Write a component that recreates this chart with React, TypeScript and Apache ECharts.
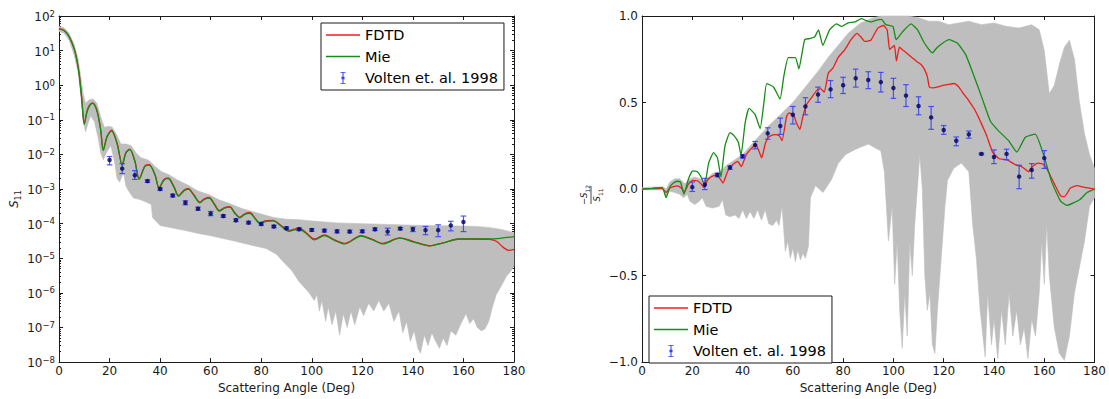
import React, { useEffect, useRef } from "react";
import * as echarts from "echarts";

// ---------------- data ----------------
const angleTicks = [0, 20, 40, 60, 80, 100, 120, 140, 160, 180];
const s11DecadeTicks = [1e-8, 1e-7, 1e-6, 1e-5, 1e-4, 1e-3, 1e-2, 1e-1, 1, 10, 100];
const s11MinorMultipliers = [2, 3, 4, 5, 6, 7, 8, 9];
const polTicks = [-1, -0.5, 0, 0.5, 1];

// left panel: S11 (log)
const s11Mie: [number, number][] = [
  [0, 42], [2, 38], [4, 25], [6, 11.2], [7, 5.6], [8, 2.0], [9, 0.4], [10, 0.074], [11, 0.16], [12, 0.25],
  [13.3, 0.3], [15, 0.18], [16.5, 0.05], [17.5, 0.013], [19, 0.032], [20.8, 0.048], [23, 0.02], [25, 0.0049],
  [26.5, 0.011], [28, 0.0138], [30, 0.0063], [31.7, 0.0019], [34, 0.0045], [35.7, 0.0049], [38, 0.0025],
  [39.6, 0.00105], [41.5, 0.0018], [43.2, 0.002], [45.5, 0.00112], [47.3, 0.00062], [49.5, 0.00089],
  [51.1, 0.001], [53.5, 0.00063], [55.7, 0.0004], [57.5, 0.0005], [59.4, 0.00055], [61.5, 0.00035],
  [63.4, 0.00023], [65.5, 0.00028], [67.6, 0.0003], [69.5, 0.0002], [71.5, 0.000148], [73.5, 0.000186],
  [75.5, 0.0002], [77.5, 0.000141], [79.4, 0.000102], [82, 0.000117], [84.7, 0.00012], [88, 0.000083],
  [91, 0.00006], [93, 0.000066], [95.2, 0.000069], [98, 0.00005], [101, 0.000034], [105, 0.000045],
  [109, 0.000033], [113, 0.000026], [119.5, 0.000044], [124, 0.000034], [128, 0.000026], [134.8, 0.000038],
  [140, 0.00003], [146.6, 0.000023], [152, 0.000028], [158.5, 0.000036], [165, 0.000036], [170.4, 0.000036],
  [175, 0.000038], [180, 0.000042],
];
const s11Fdtd: [number, number][] = [
  [0, 43], [2, 39], [4, 26], [6, 11.5], [7, 5.8], [8, 2.1], [9, 0.42], [10, 0.078], [11, 0.17], [12, 0.26],
  [13.3, 0.31], [15, 0.19], [16.5, 0.052], [17.5, 0.0135], [19, 0.033], [20.8, 0.05], [23, 0.021], [25, 0.0051],
  [26.5, 0.0115], [28, 0.0143], [30, 0.0066], [31.7, 0.002], [34, 0.0047], [35.7, 0.0051], [38, 0.0026],
  [39.6, 0.0011], [41.5, 0.0019], [43.2, 0.0021], [45.5, 0.00117], [47.3, 0.00065], [49.5, 0.00093],
  [51.1, 0.00104], [53.5, 0.00066], [55.7, 0.00042], [57.5, 0.00052], [59.4, 0.00057], [61.5, 0.00037],
  [63.4, 0.00024], [65.5, 0.00029], [67.6, 0.00031], [69.5, 0.00021], [71.5, 0.000155], [73.5, 0.000193],
  [75.5, 0.00021], [77.5, 0.000147], [79.4, 0.000107], [82, 0.000122], [84.7, 0.000125], [88, 0.000087],
  [91, 0.000063], [93, 0.00007], [95.2, 0.000073], [98, 0.000053], [101, 0.000036], [105, 0.000047],
  [109, 0.000034], [113, 0.000027], [119.5, 0.000045], [124, 0.000035], [128, 0.000027], [134.8, 0.000039],
  [140, 0.000031], [146.6, 0.000023], [152, 0.000028], [158.5, 0.000036], [165, 0.000036], [170.4, 0.000035],
  [173, 0.000031], [176, 0.00002], [178, 0.000017], [180, 0.000018],
];
const s11BandUpper: [number, number][] = [
  [0, 50], [2, 46], [4, 32], [6, 15], [7.5, 6], [8.5, 2], [9.5, 0.6], [10.5, 0.3], [12, 0.38], [13.5, 0.4],
  [15, 0.3], [16.5, 0.12], [18, 0.06], [19.5, 0.065], [21, 0.062], [23, 0.035], [24.5, 0.02], [26.5, 0.02],
  [28.5, 0.018], [30.5, 0.011], [32.5, 0.008], [35.5, 0.0068], [38, 0.0045], [40.5, 0.0032], [43.5, 0.0026],
  [47, 0.0018], [51, 0.0013], [55, 0.00088], [59.5, 0.00068], [63.5, 0.00048], [67.5, 0.00038], [72, 0.00028],
  [76, 0.00023], [80, 0.00019], [85, 0.00015], [90, 0.000135], [95, 0.00013], [100, 0.00012], [110, 0.000105],
  [120, 0.0001], [130, 0.000095], [140, 0.00009], [150, 0.000087], [160, 0.000085], [165, 0.000083],
  [170, 0.000078], [175, 0.000068], [180, 0.000055],
];
const s11BandLower: [number, number][] = [
  [0, 36], [2, 32], [4, 20], [6, 7.5], [7.5, 2.5], [8.5, 0.6], [9.5, 0.1], [10.5, 0.045], [11.5, 0.08],
  [12.5, 0.13], [14, 0.09], [15.5, 0.03], [16.5, 0.011], [17.5, 0.007], [19, 0.012], [20.5, 0.018], [22, 0.006],
  [23, 0.002], [24, 0.0016], [25.5, 0.003], [26.5, 0.0012], [27.5, 0.0009], [28.5, 0.0007], [29.5, 0.00055],
  [32, 0.0005], [34.5, 0.00042], [36.5, 0.00036], [37, 0.00015], [40, 0.000088], [45, 0.000075], [50, 0.000063],
  [55.7, 0.000051], [60, 0.000045], [65, 0.000037], [69, 0.000032], [75, 0.000025], [82, 0.000019],
  [86, 0.000013], [88.6, 0.000008], [92, 0.0000045], [95, 0.0000021], [99, 0.000001], [101, 0.0000006],
  [102, 0.0000009], [103, 0.0000003], [104, 0.0000006], [105.5, 0.00000015], [106.5, 0.0000004],
  [108, 0.00000012], [109.5, 0.0000003], [111, 0.00000006], [112.5, 0.00000025], [114, 0.0000001],
  [115.5, 0.0000003], [117, 0.00000012], [119, 0.0000004], [120.5, 0.00000022], [122.5, 0.0000005],
  [124.5, 0.0000003], [126.5, 0.0000006], [128.5, 0.0000003], [130.5, 0.0000005], [132.5, 0.00000015],
  [134.5, 0.0000003], [136, 0.00000007], [137.5, 0.00000015], [139, 0.00000004], [140.5, 0.00000008],
  [142, 0.000000025], [143, 0.000000018], [144.5, 0.00000006], [146, 0.00000003], [147.5, 0.00000007],
  [149, 0.00000004], [150.5, 0.000000025], [152, 0.00000005], [153.5, 0.00000003], [155, 0.00000008],
  [157, 0.00000006], [159, 0.00000013], [161, 0.00000025], [162.5, 0.00000013], [164, 0.00000018],
  [165.5, 0.0000001], [167, 0.00000008], [168.5, 0.00000009], [170, 0.00000015], [171.5, 0.0000004],
  [173, 0.0000009], [175, 0.0000016], [177, 0.000003], [178.7, 0.0000042], [180, 0.000006],
];
const voltenAngle = [20, 25, 30, 35, 40, 45, 50, 55, 60, 65, 70, 75, 80, 85, 90, 95, 100, 105, 110, 115, 120, 125, 130, 135, 140, 145, 150, 155, 160];
const s11VoltenValue = [6.9e-3, 3.9e-3, 2.5e-3, 1.7e-3, 1.0e-3, 6.5e-4, 4.0e-4, 2.7e-4, 1.95e-4, 1.66e-4, 1.26e-4, 1.07e-4, 9.8e-5, 8.3e-5, 7.4e-5, 6.9e-5, 6.6e-5, 6.3e-5, 6.0e-5, 5.9e-5, 6.0e-5, 6.9e-5, 5.9e-5, 7.2e-5, 6.9e-5, 6.5e-5, 6.5e-5, 8.9e-5, 1.12e-4];
const s11VoltenLow = [5.0e-3, 2.8e-3, 1.9e-3, 1.55e-3, 0.92e-3, 5.9e-4, 3.5e-4, 2.45e-4, 1.7e-4, 1.52e-4, 1.15e-4, 9.8e-5, 9.0e-5, 7.6e-5, 6.8e-5, 6.3e-5, 6.0e-5, 5.7e-5, 5.4e-5, 5.4e-5, 5.5e-5, 6.3e-5, 4.7e-5, 6.6e-5, 5.9e-5, 4.8e-5, 4.2e-5, 6.2e-5, 5.9e-5];
const s11VoltenHigh = [8.7e-3, 5.4e-3, 3.4e-3, 1.85e-3, 1.08e-3, 7.1e-4, 4.6e-4, 3.0e-4, 2.25e-4, 1.8e-4, 1.38e-4, 1.17e-4, 1.07e-4, 9.0e-5, 8.1e-5, 7.6e-5, 7.2e-5, 6.9e-5, 6.6e-5, 6.5e-5, 6.6e-5, 7.5e-5, 7.4e-5, 7.8e-5, 7.9e-5, 8.3e-5, 9.3e-5, 1.17e-4, 1.66e-4];

// right panel: -S12/S11
const polFdtd: [number, number][] = [
  [0, 0], [4, 0.002], [8, 0.004], [9.6, -0.02], [11, 0.005], [12.2, 0.012], [14, 0.018], [15.5, 0.008], [16.9, -0.015],
  [18.5, 0.03], [20.2, 0.05], [22, 0.048], [23.5, 0.03], [24.7, 0.008], [26, 0.05], [27.4, 0.07], [29.5, 0.08],
  [31, 0.06], [32.2, 0.035], [34, 0.1], [35.9, 0.138], [38, 0.16], [39.5, 0.13], [41.5, 0.2], [43.5, 0.235],
  [45.2, 0.26], [46.5, 0.22], [47.6, 0.18], [49, 0.26], [50.3, 0.3], [52.5, 0.315], [54.5, 0.31], [55.7, 0.28],
  [57.5, 0.42], [58.5, 0.44], [60.2, 0.43], [61.5, 0.38], [62.8, 0.345], [64, 0.42], [65.4, 0.486], [67.5, 0.53],
  [69.5, 0.57], [71, 0.58], [72.5, 0.56], [74.1, 0.67], [76, 0.7], [78, 0.76], [80.7, 0.806], [83, 0.86],
  [85.5, 0.9], [87, 0.88], [88.6, 0.853], [91, 0.86], [93.8, 0.93], [96, 0.945], [97.5, 0.92], [98.5, 0.806],
  [99.5, 0.82], [100.4, 0.83], [101.2, 0.74], [102.4, 0.82], [104, 0.8], [105.7, 0.78], [109, 0.74], [111, 0.72],
  [112.3, 0.693], [113.5, 0.65], [114.3, 0.59], [116, 0.585], [117.5, 0.59], [120.2, 0.6], [122, 0.605],
  [124.1, 0.61], [126, 0.59], [127.4, 0.56], [130, 0.51], [132, 0.467], [134, 0.41], [136, 0.345], [137.3, 0.3],
  [139.4, 0.215], [142, 0.175], [145, 0.17], [148.6, 0.14], [151, 0.13], [153.8, 0.1], [155, 0.125], [157.6, 0.15],
  [160, 0.14], [162, 0.09], [164, 0.03], [166.5, -0.04], [168, -0.045], [170.4, 0.006], [173, 0.02], [176, 0.01],
  [180, 0],
];
const polMie: [number, number][] = [
  [0, 0], [4, 0.004], [8, 0.01], [9.6, -0.05], [11, 0.01], [12.5, 0.035], [14, 0.045], [15.3, 0.04], [16.7, -0.03],
  [18.5, 0.06], [20.2, 0.105], [22, 0.1], [23.5, 0.07], [24.9, 0.02], [26.5, 0.15], [28.5, 0.21], [30, 0.18],
  [31.4, 0.07], [33, 0.25], [35, 0.326], [36.5, 0.31], [38.3, 0.27], [39.4, 0.195], [41, 0.38], [42.6, 0.466],
  [45, 0.43], [47, 0.35], [48.5, 0.5], [49.6, 0.609], [52.3, 0.59], [54.9, 0.52], [56.5, 0.66], [58.2, 0.76],
  [61, 0.76], [62.4, 0.694], [64.7, 0.863], [67, 0.87], [68.7, 0.88], [70.2, 0.92], [71.9, 0.83], [74.6, 0.92],
  [77.3, 0.954], [79.4, 0.94], [82, 0.96], [84.7, 0.966], [87.3, 0.985], [89, 0.975], [91.2, 0.966], [93, 0.975],
  [95.2, 0.98], [97, 0.95], [99.8, 0.94], [101.1, 0.863], [103.7, 0.91], [107, 0.954], [109.6, 0.92],
  [112.3, 0.844], [115.5, 0.787], [117.5, 0.82], [122.1, 0.863], [125.4, 0.844], [128.7, 0.778], [132, 0.655],
  [135.3, 0.524], [138.6, 0.392], [141.9, 0.335], [145.8, 0.28], [149.1, 0.214], [152.4, 0.298], [156.4, 0.317],
  [159.6, 0.204], [163, 0.04], [166.5, -0.07], [169, -0.094], [174.2, -0.06], [177, -0.02], [180, 0],
];
const polBandUpper: [number, number][] = [
  [0, 0.008], [5, 0.012], [8.5, 0.012], [9.6, 0], [11, 0.04], [13, 0.06], [15, 0.06], [17, 0.03], [19, 0.06],
  [21, 0.07], [23, 0.06], [25, 0.05], [28, 0.09], [31, 0.1], [33, 0.13], [36, 0.16], [40, 0.2], [45, 0.28],
  [50, 0.36], [55, 0.43], [60, 0.5], [65, 0.59], [70, 0.68], [74, 0.76], [78, 0.83], [82, 0.9], [87, 0.96],
  [92, 0.99], [95, 1], [106, 1], [110, 0.99], [114, 0.97], [118, 0.97], [122, 0.95], [126, 0.96], [130, 0.97],
  [135, 0.95], [140, 0.96], [145, 0.94], [150, 0.93], [155, 0.95], [158, 0.92], [160, 0.8], [162, 0.55],
  [164, 0.6], [166, 0.72], [168, 0.82], [170, 0.86], [172, 0.75], [174, 0.5], [176, 0.32], [178, 0.2], [180, 0.12],
];
const polBandLower: [number, number][] = [
  [0, -0.005], [8.5, -0.005], [9.6, -0.045], [11, -0.012], [13, -0.02], [15, -0.03], [16.5, -0.05], [18, -0.03],
  [19, -0.07], [21, -0.09], [22.8, -0.07], [24, -0.05], [25.5, -0.1], [28, -0.11], [30.7, -0.1], [32, -0.06],
  [33.3, -0.15], [35, -0.16], [37, -0.15], [38.6, -0.17], [40, -0.12], [41.5, -0.17], [43, -0.13], [44.5, -0.17],
  [46, -0.12], [47.5, -0.18], [49, -0.12], [50.4, -0.2], [52, -0.21], [53.5, -0.18], [54.5, -0.21], [55.7, -0.1],
  [57, -0.36], [58, -0.3], [59, -0.4], [60, -0.34], [61, -0.42], [62, -0.35], [63, -0.41], [64, -0.37], [65, -0.4],
  [66.2, -0.33], [67, -0.05], [69, 0.02], [72, -0.02], [75.4, 0.055], [78, 0.147], [81, 0.2], [85, 0.23], [90, 0.26],
  [95, 0.22], [96.4, 0.1], [98, -0.3], [99.5, -0.1], [100.5, -0.55], [101.5, -0.3], [102.5, -0.7], [103.5, -0.92],
  [104.5, -0.6], [105.5, -0.85], [106.5, -0.3], [107.5, -0.5], [108.5, -0.2], [109.5, 0], [110.5, 0.2], [111.5, 0],
  [112.5, -0.5], [113.5, -0.7], [114.5, -0.6], [115.5, -0.9], [116.5, -0.95], [117.5, -0.7], [118.5, -0.5],
  [119.5, -0.3], [120.5, -0.1], [121.5, 0.05], [124, 0.12], [127, 0.15], [130, 0.1], [131.5, -0.2], [133, -0.4],
  [134.5, -0.7], [136.5, -0.97], [137.5, -0.6], [139, -0.9], [140, -0.75], [141.5, -0.98], [143, -0.7],
  [144.5, -0.9], [146, -0.6], [147.5, -0.85], [149, -0.7], [150.5, -0.9], [152, -0.8], [153.5, -0.98],
  [155, -0.75], [156.5, -0.85], [158, -0.6], [159, -0.3], [160, -0.55], [161, -0.2], [162, -0.5], [164, -0.8],
  [166, -0.95], [168, -0.99], [170, -0.85], [172, -0.6], [174, -0.45], [176, -0.3], [178, -0.1], [180, -0.05],
];
const polVoltenValue = [0.011, 0.025, 0.081, 0.124, 0.189, 0.254, 0.322, 0.364, 0.429, 0.477, 0.546, 0.576, 0.6, 0.64, 0.63, 0.618, 0.584, 0.54, 0.48, 0.414, 0.341, 0.279, 0.316, 0.203, 0.185, 0.203, 0.072, 0.11, 0.179];
const polVoltenLow = [-0.014, -0.003, 0.071, 0.114, 0.179, 0.232, 0.288, 0.316, 0.376, 0.429, 0.501, 0.528, 0.552, 0.589, 0.58, 0.561, 0.524, 0.477, 0.429, 0.345, 0.316, 0.25, 0.294, 0.198, 0.147, 0.169, 0.002, 0.063, 0.119];
const polVoltenHigh = [0.041, 0.062, 0.091, 0.134, 0.199, 0.275, 0.354, 0.41, 0.477, 0.528, 0.589, 0.627, 0.646, 0.693, 0.678, 0.674, 0.64, 0.603, 0.533, 0.477, 0.367, 0.301, 0.335, 0.208, 0.226, 0.23, 0.138, 0.147, 0.222];

// ---------------- styling ----------------
const FONT = "DejaVu Sans";
const INK = "#1a1a1a";
const GRAY = "#bebebe";
const RED = "#f01c1c";
const GREEN = "#178c17";
const BLUE = "#3340f2";
const NAVY = "#000060";
const MINUS = "\u2212";
const VOLTEN = "Volten et. al. 1998";

const s11MinorTicks: number[] = [];
s11DecadeTicks.slice(0, -1).forEach((d) => s11MinorMultipliers.forEach((m) => s11MinorTicks.push(m * d)));

function xAxisDef(gridIndex: number, position: "bottom" | "top", labels: boolean) {
  return {
    type: "value",
    gridIndex,
    position,
    min: 0,
    max: 180,
    interval: 20,
    axisLine: { show: true, onZero: false, lineStyle: { color: INK, width: 1 } },
    axisTick: { show: true, inside: true, length: 4, lineStyle: { color: INK, width: 1 } },
    axisLabel: {
      show: labels,
      color: INK,
      fontSize: 12,
      fontFamily: FONT,
      margin: 3,
      formatter: (v: number) => (angleTicks.includes(v) ? String(v) : ""),
    },
    splitLine: { show: false },
    name: labels ? "Scattering Angle (Deg)" : "",
    nameLocation: "middle",
    nameGap: 15,
    nameTextStyle: { color: INK, fontSize: 12, fontFamily: FONT },
  };
}

function logAxisDef(position: "left" | "right", labels: boolean, minor: boolean) {
  return {
    type: "log",
    logBase: 10,
    gridIndex: 0,
    position,
    min: 1e-8,
    max: 1e2,
    axisLine: { show: !minor, onZero: false, lineStyle: { color: INK, width: 1 } },
    axisTick: {
      show: true,
      inside: true,
      length: minor ? 2 : 4,
      customValues: minor ? s11MinorTicks : s11DecadeTicks,
      lineStyle: { color: INK, width: 1 },
    },
    axisLabel: {
      show: labels,
      customValues: s11DecadeTicks,
      margin: 4,
      formatter: (v: number) => {
        const e = Math.round(Math.log10(v));
        return `{b|10}{s|${e < 0 ? MINUS + -e : e}}`;
      },
      rich: {
        b: { fontSize: 12, fontFamily: FONT, color: INK, lineHeight: 14, padding: [3, 0, 0, 0], verticalAlign: "bottom" },
        s: { fontSize: 8.5, fontFamily: FONT, color: INK, lineHeight: 9, verticalAlign: "top" },
      },
    },
    splitLine: { show: false },
  };
}

function polAxisDef(position: "left" | "right", labels: boolean) {
  return {
    type: "value",
    gridIndex: 1,
    position,
    min: -1,
    max: 1,
    interval: 0.5,
    axisLine: { show: true, onZero: false, lineStyle: { color: INK, width: 1 } },
    axisTick: { show: true, inside: true, length: 4, lineStyle: { color: INK, width: 1 } },
    axisLabel: {
      show: labels,
      color: INK,
      fontSize: 12,
      fontFamily: FONT,
      margin: 4,
      formatter: (v: number) => (polTicks.includes(v) ? v.toFixed(1).replace("-", MINUS) : ""),
    },
    splitLine: { show: false },
  };
}

function bandSeries(upper: [number, number][], lower: [number, number][], xIdx: number, yIdx: number, anchor: number[]) {
  return {
    type: "custom",
    xAxisIndex: xIdx,
    yAxisIndex: yIdx,
    silent: true,
    z: 1,
    data: [anchor],
    renderItem: (_p: any, api: any) => {
      const pts = [
        ...upper.map((p) => api.coord(p)),
        ...lower.slice().reverse().map((p) => api.coord(p)),
      ];
      return { type: "polygon", shape: { points: pts }, style: { fill: GRAY, stroke: GRAY, lineWidth: 0.6 } };
    },
  };
}

function lineSeries(name: string, data: [number, number][], color: string, xIdx: number, yIdx: number, smooth: number) {
  return {
    type: "line",
    name,
    data,
    xAxisIndex: xIdx,
    yAxisIndex: yIdx,
    showSymbol: false,
    symbol: "none",
    smooth,
    z: 3,
    lineStyle: { color, width: 1.3 },
    itemStyle: { color },
  };
}

function errorSeries(values: number[], low: number[], high: number[], xIdx: number, yIdx: number) {
  return [
    {
      type: "custom",
      name: VOLTEN,
      xAxisIndex: xIdx,
      yAxisIndex: yIdx,
      z: 4,
      itemStyle: { color: BLUE },
      encode: { x: 0, y: [1, 2] },
      data: voltenAngle.map((a, i) => [a, low[i], high[i]]),
      renderItem: (_p: any, api: any) => {
        const x = api.value(0);
        const lo = api.coord([x, api.value(1)]);
        const hi = api.coord([x, api.value(2)]);
        const cap = 2.8;
        const st = { stroke: BLUE, lineWidth: 1.2, opacity: 0.85 };
        return {
          type: "group",
          children: [
            { type: "line", shape: { x1: lo[0], y1: lo[1], x2: hi[0], y2: hi[1] }, style: st },
            { type: "line", shape: { x1: lo[0] - cap, y1: lo[1], x2: lo[0] + cap, y2: lo[1] }, style: st },
            { type: "line", shape: { x1: hi[0] - cap, y1: hi[1], x2: hi[0] + cap, y2: hi[1] }, style: st },
          ],
        };
      },
    },
    {
      type: "scatter",
      name: VOLTEN,
      xAxisIndex: xIdx,
      yAxisIndex: yIdx,
      z: 5,
      symbol: "circle",
      symbolSize: 4.5,
      itemStyle: { color: NAVY },
      data: voltenAngle.map((a, i) => [a, values[i]]),
    },
  ];
}

const errIcon = "path://M1,0H7V1H4.6V5.6H5.8V8.4H4.6V13H7V14H1V13H3.4V8.4H2.2V5.6H3.4V1H1Z";
const lineIcon = "path://M0,0H34V1.5H0Z";

function legendDef(left: number, top: number) {
  return {
    left,
    top,
    orient: "vertical",
    selectedMode: false,
    itemWidth: 34,
    itemHeight: 12,
    itemGap: 5.5,
    padding: [4, 6, 4, 5],
    borderColor: INK,
    borderWidth: 1,
    borderRadius: 0,
    backgroundColor: "#ffffff",
    textStyle: { fontSize: 14.5, fontFamily: FONT, color: "#000", lineHeight: 16 },
    data: [
      { name: "FDTD", icon: lineIcon, itemStyle: { color: RED } },
      { name: "Mie", icon: lineIcon, itemStyle: { color: GREEN } },
      { name: VOLTEN, icon: errIcon, itemStyle: { color: BLUE } },
    ],
  };
}

function buildOption() {
  const subRich = (size: number) => ({
    i: { fontSize: size, fontStyle: "italic", fontFamily: FONT, fill: INK, color: INK, lineHeight: size + 2, verticalAlign: "top" },
    sub: { fontSize: size * 0.7, fontFamily: FONT, fill: INK, color: INK, lineHeight: size * 0.7, padding: [size * 0.55, 0, 0, 0], verticalAlign: "top" },
    m: { fontSize: size, fontFamily: FONT, fill: INK, color: INK, lineHeight: size + 2, verticalAlign: "top" },
  });
  return {
    animation: false,
    backgroundColor: "#ffffff",
    grid: [
      { left: 59, top: 16, width: 455, height: 354, show: false },
      { left: 642, top: 16, width: 456, height: 354, show: false },
    ],
    xAxis: [
      xAxisDef(0, "bottom", true),
      xAxisDef(0, "top", false),
      xAxisDef(1, "bottom", true),
      xAxisDef(1, "top", false),
    ],
    yAxis: [
      logAxisDef("left", true, false),
      logAxisDef("right", false, false),
      logAxisDef("left", false, true),
      logAxisDef("right", false, true),
      polAxisDef("left", true),
      polAxisDef("right", false),
    ],
    legend: [legendDef(321, 23), legendDef(649, 296)],
    graphic: [
      {
        type: "text",
        x: 15,
        y: 199,
        rotation: Math.PI / 2,
        style: { text: "{i|S}{sub|11}", rich: subRich(11.5), align: "center", verticalAlign: "middle" },
      },
      {
        type: "group",
        x: 591,
        y: 195,
        rotation: Math.PI / 2,
        children: [
          {
            type: "text",
            x: 0,
            y: -1,
            style: { text: "{m|" + MINUS + "}{i|S}{sub|12}", rich: subRich(8.5), align: "center", verticalAlign: "bottom" },
          },
          { type: "line", shape: { x1: -9, y1: 0, x2: 9, y2: 0 }, style: { stroke: INK, lineWidth: 0.8 } },
          {
            type: "text",
            x: 0,
            y: 1.5,
            style: { text: "{i|S}{sub|11}", rich: subRich(8.5), align: "center", verticalAlign: "top" },
          },
        ],
      },
    ],
    series: [
      bandSeries(s11BandUpper, s11BandLower, 0, 0, [90, 1e-3]),
      lineSeries("FDTD", s11Fdtd, RED, 0, 0, 0.3),
      lineSeries("Mie", s11Mie, GREEN, 0, 0, 0.3),
      ...errorSeries(s11VoltenValue, s11VoltenLow, s11VoltenHigh, 0, 0),
      bandSeries(polBandUpper, polBandLower, 2, 4, [90, 0]),
      lineSeries("FDTD", polFdtd, RED, 2, 4, 0.15),
      lineSeries("Mie", polMie, GREEN, 2, 4, 0.15),
      ...errorSeries(polVoltenValue, polVoltenLow, polVoltenHigh, 2, 4),
    ],
  };
}

export default function App() {
  const ref = useRef<HTMLDivElement>(null);
  useEffect(() => {
    if (!ref.current) return;
    const chart = echarts.init(ref.current, null, { renderer: "svg" });
    chart.setOption(buildOption() as any);
    return () => chart.dispose();
  }, []);
  return (
    <div
      ref={ref}
      style={{ position: "fixed", left: 0, top: 0, width: 1109, height: 399, background: "#fff" }}
    />
  );
}
